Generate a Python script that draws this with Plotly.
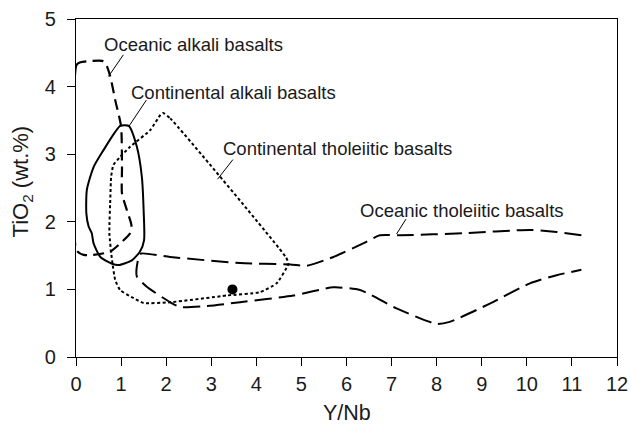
import plotly.graph_objects as go

# Oceanic alkali basalts (dashed)
oab_x = [0.01, 0.01, 0.1, 0.58, 0.66, 0.76, 0.87, 1.0, 1.02, 1.02, 1.13, 1.23, 1.2, 0.98, 0.76, 0.39, 0.17, 0.01]
oab_y = [1.58, 4.32, 4.36, 4.38, 4.34, 4.15, 3.80, 3.41, 2.81, 2.42, 2.17, 1.95, 1.83, 1.68, 1.56, 1.51, 1.51, 1.58]

# Continental alkali basalts (solid)
cab_x = [0.98, 1.17, 1.35, 1.46, 1.50, 1.51, 1.42, 1.24, 0.94, 0.80, 0.54, 0.39, 0.35, 0.28, 0.23, 0.24, 0.39, 0.61, 0.87, 0.98]
cab_y = [3.42, 3.42, 3.11, 2.67, 2.17, 1.73, 1.56, 1.43, 1.36, 1.38, 1.48, 1.68, 1.83, 1.93, 2.12, 2.47, 2.81, 3.06, 3.33, 3.42]

# Continental tholeiitic basalts (dotted)
ctb_x = [1.93, 2.09, 4.66, 4.71, 4.45, 4.08, 3.35, 2.09, 1.5, 1.28, 0.98, 0.87, 0.80, 0.74, 0.76, 0.78, 0.83, 0.98, 1.2, 1.65, 1.87, 1.93]
ctb_y = [3.61, 3.53, 1.47, 1.38, 1.09, 0.96, 0.91, 0.81, 0.80, 0.87, 0.99, 1.14, 1.43, 1.83, 2.32, 2.67, 2.84, 2.96, 3.11, 3.36, 3.58, 3.61]

# Oceanic tholeiitic basalts (long dashed, open)
ot_x = [11.21, 10.66, 10.07, 8.58, 7.19, 6.74, 6.37, 5.71, 5.12, 4.75, 3.64, 2.09, 1.44, 1.39, 1.34, 1.35, 1.57,
        2.09, 2.31, 2.83, 3.64, 4.82, 5.71, 6.3, 7.11, 8.0, 8.29, 9.18, 10.07, 10.66, 11.21]
ot_y = [1.80, 1.85, 1.88, 1.83, 1.80, 1.80, 1.68, 1.48, 1.35, 1.37, 1.39, 1.48, 1.53, 1.48, 1.28, 1.19, 1.04,
        0.81, 0.74, 0.75, 0.81, 0.91, 1.03, 0.99, 0.72, 0.49, 0.52, 0.79, 1.09, 1.21, 1.29]

# Sample point
pt_x = [3.47]
pt_y = [1.0]

# Field labels
labels = ["Oceanic alkali basalts", "Continental alkali basalts",
          "Continental tholeiitic basalts", "Oceanic tholeiitic basalts"]
label_x = [0.58, 1.17, 3.21, 6.25]
label_y = [4.62, 3.91, 3.08, 2.17]
# leader lines: (x0, y0, x1, y1)
leaders = [(1.05, 4.47, 0.72, 4.15), (1.56, 3.80, 1.17, 3.41),
           (3.48, 2.92, 3.14, 2.63), (7.32, 2.04, 7.11, 1.82)]

x_ticks = list(range(0, 13))
y_ticks = list(range(0, 6))
x_title = "Y/Nb"
y_title = "TiO<sub>2</sub> (wt.%)"

FONT = "Liberation Sans, Arial, Helvetica, sans-serif"

fig = go.Figure()
fig.add_trace(go.Scatter(x=oab_x, y=oab_y, mode="lines",
                         line=dict(color="black", width=2.2, dash="11px,6px", shape="spline", smoothing=0.6)))
fig.add_trace(go.Scatter(x=cab_x, y=cab_y, mode="lines",
                         line=dict(color="black", width=2, shape="spline", smoothing=0.6)))
fig.add_trace(go.Scatter(x=ctb_x, y=ctb_y, mode="lines",
                         line=dict(color="black", width=2, dash="3px,2.5px", shape="spline", smoothing=0.5)))
fig.add_trace(go.Scatter(x=ot_x, y=ot_y, mode="lines",
                         line=dict(color="black", width=2, dash="17px,7px", shape="spline", smoothing=0.6)))
fig.add_trace(go.Scatter(x=pt_x, y=pt_y, mode="markers",
                         marker=dict(color="black", size=10)))

for (x0, y0, x1, y1) in leaders:
    fig.add_shape(type="line", x0=x0, y0=y0, x1=x1, y1=y1, xref="x", yref="y",
                  line=dict(color="black", width=1))

for t, lx, ly in zip(labels, label_x, label_y):
    fig.add_annotation(x=lx, y=ly, text=t, showarrow=False, xanchor="left", yanchor="middle",
                       font=dict(family=FONT, size=18.5, color="#1a1a1a"))

# axis titles as paper-positioned annotations
fig.add_annotation(x=0.5, y=-0.166, xref="paper", yref="paper", text=x_title, showarrow=False,
                   xanchor="center", yanchor="middle", borderpad=0,
                   font=dict(family=FONT, size=21.5, color="#1a1a1a"))
fig.add_annotation(x=-0.100, y=0.519, xref="paper", yref="paper", text=y_title, showarrow=False,
                   textangle=-90, xanchor="center", yanchor="middle",
                   font=dict(family=FONT, size=22, color="#1a1a1a"))

fig.update_layout(
    width=630, height=425,
    margin=dict(l=76, r=13, t=19, b=68, autoexpand=False),
    paper_bgcolor="white", plot_bgcolor="white",
    showlegend=False,
    font=dict(family=FONT, color="#1a1a1a"),
)
fig.update_xaxes(range=[0, 12], tickvals=x_ticks, ticks="outside", ticklen=8, tickwidth=1.3,
                 tickcolor="black", showline=True, linecolor="black", linewidth=1.3, mirror=True,
                 showgrid=False, zeroline=False, tickfont=dict(size=20), ticklabelstandoff=1,
                 automargin=False)
fig.update_yaxes(range=[0, 5], tickvals=y_ticks, ticks="outside", ticklen=8, tickwidth=1.3,
                 tickcolor="black", showline=True, linecolor="black", linewidth=1.3, mirror=True,
                 showgrid=False, zeroline=False, tickfont=dict(size=20), ticklabelstandoff=7,
                 automargin=False)

fig.write_html("out.html")
